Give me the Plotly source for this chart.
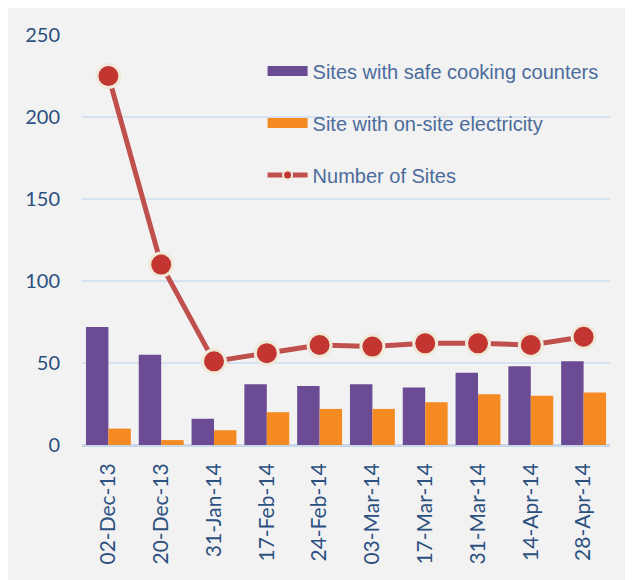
import plotly.graph_objects as go

categories = ["02-Dec-13", "20-Dec-13", "31-Jan-14", "17-Feb-14", "24-Feb-14",
              "03-Mar-14", "17-Mar-14", "31-Mar-14", "14-Apr-14", "28-Apr-14"]
safe_cooking = [72, 55, 16, 37, 36, 37, 35, 44, 48, 51]
electricity = [10, 3, 9, 20, 22, 22, 26, 31, 30, 32]
num_sites = [225, 110, 51, 56, 61, 60, 62, 62, 61, 66]
y_ticks = [0, 50, 100, 150, 200, 250]

PURPLE = "#6a4b94"
ORANGE = "#f58a22"

# page has an 8px body margin, so the figure is drawn at (8, 8)
W, H = 625, 572
ml, mr, mt, mb = 74, 23, 27, 135

fig = go.Figure()
fig.add_trace(go.Bar(
    x=categories, y=safe_cooking, name="Sites with safe cooking counters",
    marker=dict(color=PURPLE, line=dict(width=0)), showlegend=False,
))
fig.add_trace(go.Bar(
    x=categories, y=electricity, name="Site with on-site electricity",
    marker=dict(color=ORANGE, line=dict(width=0)), showlegend=False,
))
fig.add_trace(go.Scatter(
    x=categories, y=num_sites, name="Number of Sites", mode="lines+markers",
    line=dict(color="#c0504d", width=5),
    marker=dict(size=23, color="#c23530", line=dict(color="#efe9da", width=3)),
    showlegend=False,
))
# legend entries (wide swatches like the original)
fig.add_trace(go.Scatter(x=[None], y=[None], mode="lines", name="Sites with safe cooking counters",
                         line=dict(color=PURPLE, width=12), legendgroup="a"))
fig.add_trace(go.Scatter(x=[None], y=[None], mode="lines", name="Site with on-site electricity",
                         line=dict(color=ORANGE, width=12), legendgroup="b"))
fig.add_trace(go.Scatter(x=[None], y=[None], mode="lines+markers", name="Number of Sites",
                         line=dict(color="#c0504d", width=5),
                         marker=dict(size=9, color="#c23530", line=dict(color="#efe9da", width=2)),
                         legendgroup="c"))

fig.update_layout(
    width=W, height=H,
    margin=dict(l=ml, r=mr, t=mt, b=mb, pad=0),
    paper_bgcolor="#f2f2f2",
    plot_bgcolor="#f2f2f2",
    barmode="group",
    bargap=0.15,
    bargroupgap=0,
    showlegend=True,
    legend=dict(
        x=0.342, y=0.96, xanchor="left", yanchor="top",
        bgcolor="rgba(0,0,0,0)",
        font=dict(family="Liberation Sans", size=20, color="#4b6c9c"),
        tracegroupgap=23, itemwidth=40,
    ),
    xaxis=dict(
        type="category", tickangle=-90,
        range=[-0.5, len(categories) - 0.5],
        tickfont=dict(family="Lato", size=21, color="#2c507f"),
        showgrid=False, showline=False,
        ticks="outside", ticklen=9, tickcolor="rgba(0,0,0,0)",
        automargin=False,
    ),
    yaxis=dict(
        range=[0, 250], tickvals=y_ticks,
        tickfont=dict(family="Lato", size=20, color="#2c507f"),
        showgrid=True, gridcolor="#d6e2f0", gridwidth=1.5,
        zeroline=True, zerolinecolor="#c9d6e6", zerolinewidth=2.5,
        showline=False, ticks="outside", ticklen=17, tickcolor="rgba(0,0,0,0)",
        automargin=False,
    ),
)

fig.write_html("out.html")
